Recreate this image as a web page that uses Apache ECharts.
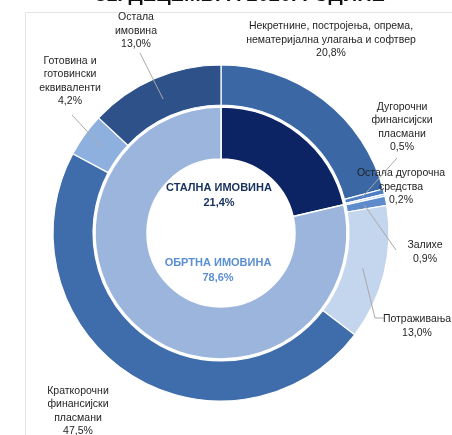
<!DOCTYPE html>
<html>
<head>
<meta charset="utf-8">
<script src="https://cdn.jsdelivr.net/npm/echarts@6/dist/echarts.min.js"></script>
<style>
  html, body { margin: 0; padding: 0; background: #ffffff; }
  #chart { width: 452px; height: 435px; }
</style>
</head>
<body>
<div id="chart"></div>
<script>
// Asset structure, share of total (%)
const titleText = '31. ДЕЦЕМБРА 2020. ГОДИНЕ';
const groupNames = ['СТАЛНА ИМОВИНА', 'ОБРТНА ИМОВИНА'];
const groupValues = [21.4, 78.6];
const itemNames = [
  'Некретнине, постројења, опрема,\nнематеријална улагања и софтвер',
  'Дугорочни\nфинансијски\nпласмани',
  'Остала дугорочна\nсредства',
  'Залихе',
  'Потраживања',
  'Краткорочни\nфинансијски\nпласмани',
  'Готовина и\nготовински\nеквиваленти',
  'Остала\nимовина'
];
const itemValues = [20.8, 0.5, 0.2, 0.9, 13.0, 47.5, 4.2, 13.0];

// ---- styling ----
const groupColors = ['#0c2463', '#9bb5dc'];
const groupTextColors = ['#16305e', '#5b8fd3'];
const itemColors = ['#3b67a4', '#4f7fc2', '#aac3e6', '#5e8bcb', '#c4d5ee', '#3f6caa', '#8eb0de', '#2d5188'];
const CX = 221, CY = 233;
const FONT = '"Liberation Sans", Arial, sans-serif';

// where each outer label sits, and the bend/end points of its leader line
const labelSpots = [
  { x: 331, y: 40 },
  { x: 402, y: 127, lead: [[397, 158]] },
  { x: 401, y: 187 },
  { x: 425, y: 252, lead: [[396, 250]] },
  { x: 417, y: 326, lead: [[375, 318], [384, 318]] },
  { x: 78, y: 411 },
  { x: 70, y: 81, lead: [[72, 115]] },
  { x: 136, y: 31, lead: [[140, 53]] }
];
const groupSpots = [{ x: 219, y: 195 }, { x: 218, y: 270 }];

const pct = v => v.toFixed(1).replace('.', ',') + '%';
const itemTotal = itemValues.reduce((a, b) => a + b, 0);

// point inside a slice of the outer ring, on its middle angle
function sliceAnchor(i, r) {
  let before = 0;
  for (let j = 0; j < i; j++) before += itemValues[j];
  const a = (before + itemValues[i] / 2) / itemTotal * 2 * Math.PI;
  return [CX + r * Math.sin(a), CY - r * Math.cos(a)];
}

// leader lines, drawn above the ring so they cross into their slices
const leaders = labelSpots
  .map((s, i) => s.lead ? {
    type: 'polyline', silent: true, z: 20,
    shape: { points: [sliceAnchor(i, 146)].concat(s.lead) },
    style: { stroke: '#a9a9a9', lineWidth: 1, fill: 'none' }
  } : null)
  .filter(Boolean);

const chart = echarts.init(document.getElementById('chart'), null, { renderer: 'canvas' });

chart.setOption({
  backgroundColor: '#ffffff',
  animation: false,
  graphic: [
    {
      type: 'rect', silent: true,
      shape: { x: 25.5, y: 12.5, width: 480, height: 480 },
      style: { fill: 'none', stroke: '#e3e3e3', lineWidth: 1 }
    },
    {
      type: 'text', silent: true, x: 240, y: 5,
      style: {
        text: titleText, fill: '#111111', align: 'center', verticalAlign: 'bottom',
        font: 'bold 20px ' + FONT
      }
    }
  ].concat(leaders),
  series: [
    {
      type: 'pie',
      name: 'groups',
      center: [CX, CY],
      radius: [74, 126],
      startAngle: 90,
      clockwise: true,
      avoidLabelOverlap: false,
      itemStyle: { borderColor: '#ffffff', borderWidth: 1.5 },
      label: {
        show: true,
        position: 'inside',
        fontFamily: FONT,
        fontSize: 11,
        fontWeight: 'bold',
        lineHeight: 15,
        formatter: p => p.name + '\n' + pct(p.value)
      },
      labelLine: { show: false },
      labelLayout: p => ({
        x: groupSpots[p.dataIndex].x,
        y: groupSpots[p.dataIndex].y,
        align: 'center',
        verticalAlign: 'middle'
      }),
      emphasis: { disabled: true },
      data: groupNames.map((n, i) => ({
        name: n, value: groupValues[i],
        itemStyle: { color: groupColors[i] },
        label: { color: groupTextColors[i] }
      }))
    },
    {
      type: 'pie',
      name: 'items',
      center: [CX, CY],
      radius: [128, 168],
      startAngle: 90,
      clockwise: true,
      avoidLabelOverlap: false,
      itemStyle: { borderColor: '#ffffff', borderWidth: 1.2 },
      label: {
        show: true,
        position: 'outside',
        fontFamily: FONT,
        fontSize: 10.5,
        color: '#1f1f1f',
        lineHeight: 13.5,
        formatter: p => p.name + '\n' + pct(p.value)
      },
      labelLine: { show: false },
      labelLayout: p => ({
        x: labelSpots[p.dataIndex].x,
        y: labelSpots[p.dataIndex].y,
        align: 'center',
        verticalAlign: 'middle'
      }),
      emphasis: { disabled: true },
      data: itemNames.map((n, i) => ({
        name: n, value: itemValues[i],
        itemStyle: { color: itemColors[i] }
      }))
    }
  ]
});
</script>
</body>
</html>
